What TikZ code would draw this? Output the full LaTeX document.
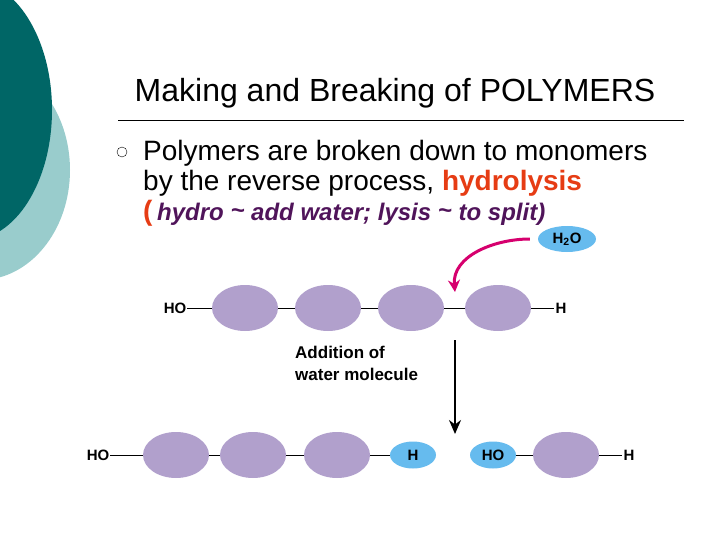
\documentclass[tikz,border=0pt]{standalone}
\usepackage{fontspec}
\setmainfont{Liberation Sans}
\usetikzlibrary{positioning, shapes.geometric, arrows.meta}
\definecolor{Teal-D}{RGB}{0, 102, 102}
\definecolor{Teal-L}{RGB}{153, 204, 204}
\definecolor{Mono-P}{RGB}{177, 160, 204}
\definecolor{Wat-B}{RGB}{102, 187, 238}
\definecolor{Arr-M}{RGB}{214, 0, 110}
\definecolor{Hyd-R}{RGB}{230, 60, 20}
\definecolor{Txt-P}{RGB}{80, 20, 90}
\tikzset{
  mono/.style={ellipse, fill=Mono-P, minimum width=66pt, minimum height=46pt, inner sep=0pt},
  wat/.style={ellipse, fill=Wat-B, minimum width=46pt, minimum height=27pt, inner sep=0pt, font=\bfseries\fontsize{15}{15}\selectfont},
  grp/.style={font=\bfseries\fontsize{15}{15}\selectfont, inner sep=1pt},
  bond/.style={thin, black}
}
\begin{document}
\begin{tikzpicture}[x=1pt, y=-1pt]
\useasboundingbox (0,0) rectangle (720,540);
\clip (0,0) rectangle (720,540);

% side decoration
\fill [Teal-L] (-20,170) ellipse [x radius=90, y radius=110];
\fill [Teal-D] (-30,110) ellipse [x radius=82, y radius=130];

% title
\node (title) at (395,93) {\fontsize{32}{32}\selectfont Making and Breaking of POLYMERS};
\draw (118,120) -- (684,120);

% bullet text
\node [circle, draw, thin, minimum size=10pt, inner sep=0pt] (bul) at (122,152) {};
\node [anchor=north west, align=left, inner sep=0pt, font=\fontsize{28}{30}\selectfont] (txt) at (143,140)
  {Polymers are broken down to monomers\\
   by the reverse process, \textcolor{Hyd-R}{\bfseries hydrolysis}\\
   {\color{Hyd-R}\bfseries (}\,{\color{Txt-P}\bfseries\itshape\fontsize{24}{24}\selectfont hydro {\raisebox{.1em}{\textasciitilde}} add water; lysis {\raisebox{.1em}{\textasciitilde}} to split)}};

% top chain
\node [grp] (ho1) at (175,308) {HO};
\node [mono] (m1) at (245,308) {};
\node [mono] (m2) at (328,308) {};
\node [mono] (m3) at (411,308) {};
\node [mono] (m4) at (498,308) {};
\node [grp] (h1) at (561,308) {H};
\draw [bond] (ho1) -- (m1) -- (m2) -- (m3) -- (m4) -- (h1);

\node [wat, minimum width=58pt, minimum height=26pt] (h2o) at (567,239) {H\textsubscript{2}O};
\coordinate (cut) at (455,292);
\draw [Arr-M, line width=3pt, -{Stealth[length=12pt, width=12pt]}] (h2o.west) ++(-8,0) to [out=180, in=95] (cut);

% reaction
\coordinate (rtop) at (455,340);
\coordinate (rbot) at (455,434);
\draw [line width=2pt, -{Stealth[length=14pt, width=12pt]}] (rtop) -- (rbot);
\node [anchor=north west, align=left, inner sep=0pt, font=\bfseries\fontsize{17}{22}\selectfont] (add) at (295,346) {Addition of\\water molecule};

% bottom chain
\node [grp] (ho2) at (98,455) {HO};
\node [mono] (n1) at (176,455) {};
\node [mono] (n2) at (253,455) {};
\node [mono] (n3) at (337,455) {};
\node [wat] (hb) at (413,455) {H};
\draw [bond] (ho2) -- (n1) -- (n2) -- (n3) -- (hb);
\node [wat] (hob) at (493,455) {HO};
\node [mono] (n4) at (566,455) {};
\node [grp] (h3) at (629,455) {H};
\draw [bond] (hob) -- (n4) -- (h3);
\end{tikzpicture}
\end{document}
